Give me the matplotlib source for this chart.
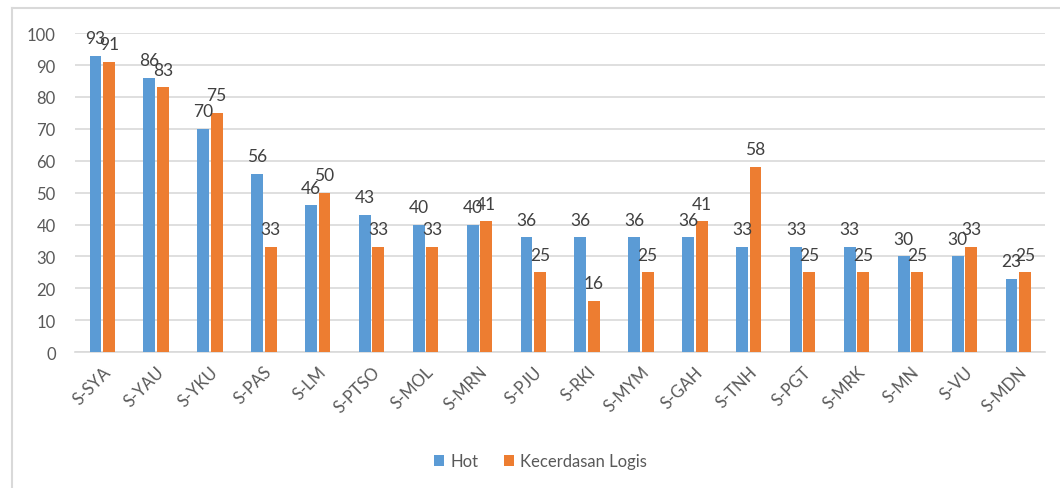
import numpy as np
import matplotlib.pyplot as plt
from matplotlib.lines import Line2D

categories = ['S-SYA', 'S-YAU', 'S-YKU', 'S-PAS', 'S-LM', 'S-PTSO', 'S-MOL', 'S-MRN', 'S-PJU',
              'S-RKI', 'S-MYM', 'S-GAH', 'S-TNH', 'S-PGT', 'S-MRK', 'S-MN', 'S-VU', 'S-MDN']
hot = [93, 86, 70, 56, 46, 43, 40, 40, 36, 36, 36, 36, 33, 33, 33, 30, 30, 23]
logis = [91, 83, 75, 33, 50, 33, 33, 41, 25, 16, 25, 41, 58, 25, 25, 25, 33, 25]
series_names = ['Hot', 'Kecerdasan Logis']

blue = '#5b9bd5'
orange = '#ed7d31'
gray = '#595959'

plt.rcParams['font.family'] = ['Lato', 'DejaVu Sans']

fig = plt.figure(figsize=(10.6, 4.89), dpi=100)
ax = fig.add_axes([0.071, 0.278, 0.915, 0.652])

x = np.arange(len(categories))
w = 0.22
gap = 0.03
b1 = ax.bar(x - w/2 - gap/2, hot, w, color=blue, label=series_names[0], zorder=3)
b2 = ax.bar(x + w/2 + gap/2, logis, w, color=orange, label=series_names[1], zorder=3)

for bars in (b1, b2):
    for r in bars:
        ax.annotate(f'{int(r.get_height())}', (r.get_x() + r.get_width()/2, r.get_height()),
                    xytext=(0, 7), textcoords='offset points', ha='center', va='bottom',
                    fontsize=12.5, color='#404040', clip_on=False)

ax.set_ylim(0, 100)
ax.set_yticks(range(0, 101, 10))
ax.set_xlim(-0.5, len(categories) - 0.5)
ax.set_xticks(x)
ax.set_xticklabels(categories, rotation=45, ha='right', rotation_mode='anchor', fontsize=12, color=gray)
ax.tick_params(axis='y', labelsize=12, labelcolor=gray, length=0, pad=14)
ax.tick_params(axis='x', length=0, pad=8)
ax.grid(axis='y', color='#d9d9d9', linewidth=1.2, zorder=0)
for s in ['top', 'right', 'left']:
    ax.spines[s].set_visible(False)
ax.spines['bottom'].set_color('#d9d9d9')
ax.spines['bottom'].set_linewidth(1.2)

fig.legend(loc='center', bbox_to_anchor=(0.51, 0.055), ncol=2, frameon=False,
           fontsize=12, handlelength=0.6, handleheight=0.6, columnspacing=1.5,
           handletextpad=0.4, labelcolor=gray)

# chart border (top and left visible)
fig.add_artist(Line2D([0.011, 1.0], [0.981, 0.981], color='#d9d9d9', linewidth=1.5, transform=fig.transFigure))
fig.add_artist(Line2D([0.011, 0.011], [0.0, 0.981], color='#d9d9d9', linewidth=1.5, transform=fig.transFigure))

fig.savefig('out.png', dpi=100)
